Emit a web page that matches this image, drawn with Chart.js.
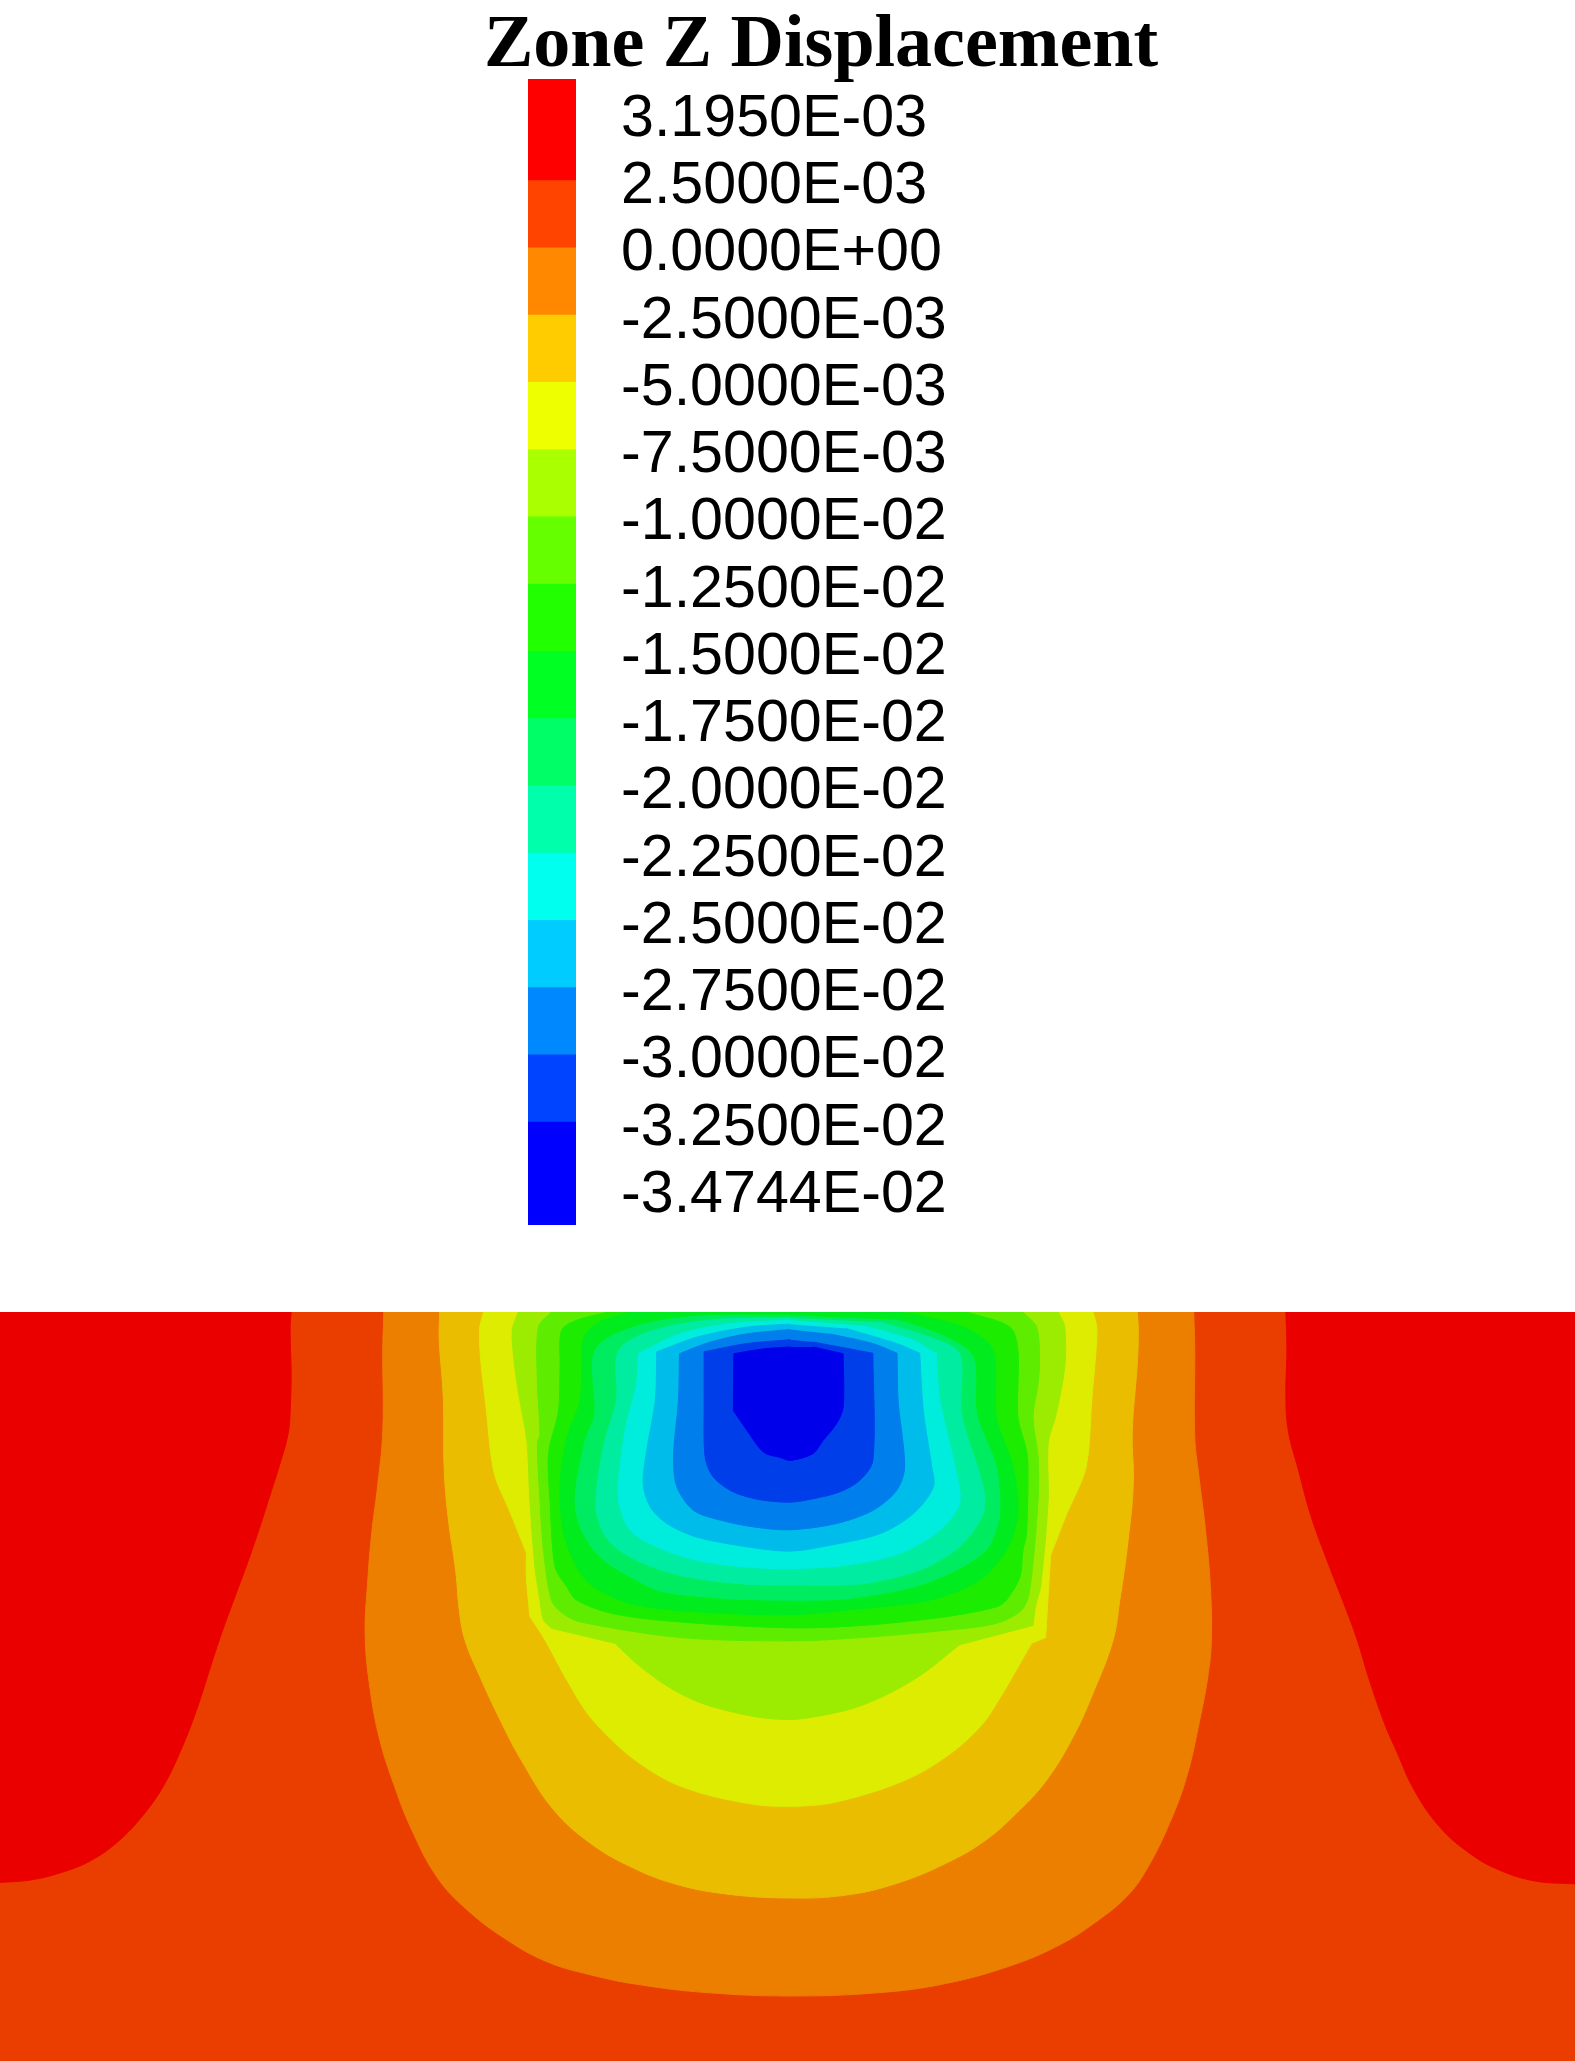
<!DOCTYPE html>
<html>
  <head>
    <style>
      body {
        margin: 0;
        background: #fff;
      }
      .title {
        position: absolute;
        left: 0;
        top: 4px;
        width: 1642px;
        text-align: center;
        font: bold 74px/74px "Liberation Serif", serif;
        color: #000;
      }
      #legendChart, #fieldChart {
        position: absolute;
        left: 0;
      }
      #legendChart { top: 0; }
      #fieldChart { top: 1312px; }
    </style>
    <script src="https://cdn.jsdelivr.net/npm/chart.js"></script>
  </head>
  <body>
    <div class="title">Zone Z Displacement</div>
    <canvas id="legendChart" width="1575" height="1312"></canvas>
    <canvas id="fieldChart" width="1575" height="749"></canvas>
    <script>
      // colour bar
      var tickLabels = ['3.1950E-03', '2.5000E-03', '0.0000E+00', '-2.5000E-03', '-5.0000E-03', '-7.5000E-03',
        '-1.0000E-02', '-1.2500E-02', '-1.5000E-02', '-1.7500E-02', '-2.0000E-02', '-2.2500E-02',
        '-2.5000E-02', '-2.7500E-02', '-3.0000E-02', '-3.2500E-02', '-3.4744E-02'];
      var bandEdges = [-0.5, 1, 2, 3, 4, 5, 6, 7, 8, 9, 10, 11, 12, 13, 14, 15, 16.54];
      var legendColors = ['#FF0000', '#FF4400', '#FF8800', '#FFCC00', '#EEFF00', '#AAFF00', '#66FF00', '#22FF00',
        '#00FF22', '#00FF66', '#00FFAA', '#00FFEE', '#00CCFF', '#0088FF', '#0044FF', '#0000FF'];

      // contour outlines, [x, y] in field units
      // a point written twice is a sharp corner of the contour
      var extent = [[0, 24], [3127, 24], [3127, 1568], [0, 1568]];
      var redLeft = [[0, 24], [578, 24], [578, 24], [576, 60], [578, 150], [576, 230], [572, 275], [555, 340], [535, 405], [515, 470], [490, 545], [465, 615], [437, 695], [415, 765], [390, 845], [360, 925], [325, 1000], [285, 1060], [235, 1115], [180, 1155], [120, 1180], [60, 1195], [0, 1200]];
      var redRight = [[2553, 24], [2553, 24], [2555, 100], [2553, 200], [2558, 270], [2578, 350], [2603, 445], [2638, 545], [2668, 625], [2693, 695], [2718, 780], [2748, 870], [2773, 930], [2808, 1010], [2858, 1085], [2918, 1140], [2978, 1175], [3048, 1197], [3127, 1203], [3127, 1203], [3127, 24]];
      var orange = [[762, 24], [760, 100], [760, 270], [750, 380], [738, 480], [730, 580], [725, 690], [735, 803], [754, 906], [781, 995], [816, 1088], [867, 1188], [927, 1256], [1006, 1318], [1085, 1363], [1171, 1390], [1271, 1411], [1403, 1427], [1569, 1434], [1746, 1427], [1879, 1408], [2011, 1370], [2105, 1328], [2175, 1282], [2237, 1229], [2276, 1174], [2322, 1078], [2356, 982], [2382, 865], [2399, 769], [2405, 700], [2403, 590], [2393, 470], [2380, 360], [2372, 280], [2372, 100], [2370, 24]];
      var amber = [[873, 24], [872, 80], [880, 200], [882, 350], [890, 450], [905, 560], [912, 640], [923, 700], [953, 776], [993, 865], [1035, 948], [1099, 1050], [1172, 1119], [1251, 1167], [1337, 1202], [1436, 1223], [1569, 1232], [1680, 1226], [1780, 1202], [1879, 1160], [1958, 1112], [2025, 1050], [2078, 989], [2131, 899], [2170, 810], [2210, 700], [2223, 620], [2238, 510], [2250, 380], [2248, 270], [2258, 130], [2260, 60], [2258, 24]];
      var yellow = [[960, 24], [952, 60], [955, 130], [965, 220], [975, 320], [985, 370], [1010, 430], [1045, 520], [1045, 520], [1045, 570], [1052, 652], [1052, 652], [1082, 700], [1125, 782], [1171, 858], [1244, 934], [1324, 989], [1403, 1019], [1503, 1040], [1569, 1043], [1647, 1037], [1747, 1009], [1826, 975], [1899, 925], [1952, 872], [1985, 820], [2018, 762], [2048, 707], [2048, 707], [2076, 695], [2076, 695], [2086, 525], [2086, 525], [2118, 440], [2156, 345], [2168, 200], [2178, 60], [2170, 24]];
      var lime = [[1029, 24], [1017, 62], [1022, 137], [1032, 206], [1046, 289], [1052, 412], [1062, 549], [1072, 618], [1079, 659], [1095, 676], [1095, 676], [1221, 707], [1221, 707], [1271, 755], [1337, 803], [1403, 834], [1503, 859], [1569, 864], [1614, 859], [1694, 841], [1766, 810], [1833, 769], [1905, 710], [1905, 710], [2051, 670], [2051, 670], [2056, 630], [2066, 590], [2081, 412], [2081, 295], [2097, 234], [2114, 137], [2114, 55], [2101, 24]];
      var grass = [[1095, 24], [1069, 55], [1067, 172], [1072, 275], [1067, 295], [1072, 412], [1079, 515], [1095, 618], [1118, 646], [1152, 663], [1350, 695], [1569, 702], [1713, 695], [1879, 680], [1978, 666], [2028, 639], [2044, 600], [2061, 412], [2061, 323], [2051, 240], [2061, 172], [2064, 117], [2058, 55], [2031, 24]];
      var green = [[1208, 24], [1145, 41], [1115, 62], [1112, 137], [1109, 227], [1089, 316], [1092, 412], [1102, 549], [1125, 590], [1145, 618], [1218, 646], [1350, 663], [1569, 675], [1713, 670], [1879, 652], [1978, 632], [1998, 618], [2025, 570], [2031, 515], [2038, 481], [2041, 343], [2038, 309], [2021, 240], [2021, 103], [2005, 55], [1919, 24]];
      var emerald = [[1251, 24], [1190, 45], [1160, 75], [1155, 137], [1152, 206], [1128, 275], [1115, 343], [1112, 412], [1119, 480], [1145, 550], [1178, 590], [1251, 625], [1383, 642], [1569, 648], [1713, 635], [1846, 618], [1945, 577], [1998, 515], [2021, 440], [2011, 343], [1978, 240], [1972, 103], [1919, 58], [1826, 31], [1780, 24]];
      var spring = [[1569, 31], [1383, 33], [1258, 55], [1181, 103], [1181, 234], [1162, 289], [1142, 405], [1152, 467], [1191, 529], [1264, 577], [1317, 601], [1450, 615], [1569, 618], [1680, 615], [1813, 591], [1899, 556], [1958, 515], [1975, 480], [1985, 440], [1978, 343], [1939, 234], [1932, 117], [1879, 76], [1780, 40]];
      var mint = [[1569, 36], [1416, 40], [1297, 62], [1228, 103], [1224, 206], [1201, 289], [1185, 385], [1185, 440], [1208, 495], [1264, 536], [1350, 567], [1469, 584], [1569, 587], [1713, 584], [1826, 556], [1905, 508], [1952, 440], [1952, 385], [1909, 234], [1905, 110], [1846, 76], [1747, 45]];
      var cyan = [[1569, 41], [1449, 48], [1350, 69], [1267, 110], [1267, 110], [1264, 172], [1244, 254], [1231, 343], [1228, 412], [1251, 474], [1304, 508], [1383, 536], [1483, 550], [1569, 553], [1680, 546], [1786, 522], [1866, 474], [1905, 419], [1899, 357], [1866, 206], [1859, 110], [1859, 110], [1813, 82], [1713, 52]];
      var sky = [[1569, 49], [1483, 55], [1383, 76], [1304, 106], [1304, 106], [1301, 206], [1284, 309], [1277, 378], [1291, 426], [1324, 460], [1383, 488], [1483, 508], [1569, 517], [1647, 505], [1747, 481], [1813, 440], [1853, 385], [1849, 337], [1833, 227], [1826, 109], [1826, 109], [1780, 89], [1680, 58]];
      var azure = [[1569, 60], [1483, 69], [1410, 86], [1349, 110], [1349, 110], [1347, 206], [1337, 323], [1344, 385], [1377, 433], [1430, 453], [1496, 467], [1569, 473], [1661, 460], [1733, 433], [1780, 392], [1796, 344], [1783, 206], [1781, 109], [1781, 109], [1733, 89], [1647, 69]];
      var royal = [[1569, 81], [1483, 89], [1398, 106], [1398, 106], [1398, 206], [1400, 323], [1416, 364], [1456, 395], [1509, 411], [1569, 416], [1614, 409], [1667, 395], [1707, 371], [1733, 330], [1733, 109], [1733, 109], [1614, 86]];
      var blue = [[1569, 96], [1516, 100], [1457, 110], [1457, 110], [1456, 227], [1456, 227], [1483, 268], [1516, 313], [1549, 324], [1569, 330], [1614, 316], [1634, 289], [1661, 254], [1674, 220], [1674, 110], [1674, 110], [1614, 96]];

      function contour(points, color, tension) {
        return {
          data: points.map(function(p) { return {x: p[0], y: p[1]}; }),
          showLine: true,
          fill: 'shape',
          backgroundColor: color,
          borderColor: color,
          borderWidth: 1,
          pointRadius: 0,
          tension: tension === undefined ? 0.3 : tension
        };
      }

      new Chart(document.getElementById('legendChart'), {
        type: 'bar',
        data: {
          labels: [''],
          datasets: legendColors.map(function(color, i) {
            return {
              data: [[bandEdges[i], bandEdges[i + 1]]],
              backgroundColor: color,
              grouped: false,
              barPercentage: 1,
              categoryPercentage: 1
            };
          })
        },
        options: {
          responsive: false,
          animation: false,
          layout: {padding: {left: 528, top: 79, bottom: 87}},
          plugins: {legend: {display: false}, tooltip: {enabled: false}},
          scales: {
            x: {display: false},
            y: {
              position: 'right',
              reverse: true,
              bounds: 'data',
              min: -0.5,
              max: 16.54,
              afterFit: function(scale) { scale.width = 999; scale.paddingTop = 0; scale.paddingBottom = 0; },
              afterBuildTicks: function(scale) {
                scale.ticks = tickLabels.map(function(label, i) { return {value: i}; });
              },
              grid: {display: false, drawTicks: false},
              border: {display: false},
              ticks: {
                autoSkip: false,
                padding: 45,
                labelOffset: 7,
                color: '#000',
                font: {family: '"Liberation Sans", Arial, sans-serif', size: 59.2},
                callback: function(value) { return tickLabels[value] || ''; }
              }
            }
          }
        }
      });

      new Chart(document.getElementById('fieldChart'), {
        type: 'scatter',
        data: {
          datasets: [
            contour(blue, '#0000EA'),
            contour(royal, '#003EEA'),
            contour(azure, '#007EEC'),
            contour(sky, '#00BCEA'),
            contour(cyan, '#00ECDD'),
            contour(mint, '#00ECA0'),
            contour(spring, '#00EC60'),
            contour(emerald, '#00EC1E'),
            contour(green, '#1CEC00'),
            contour(grass, '#5EEC00'),
            contour(lime, '#9BEC00'),
            contour(yellow, '#DDEC00'),
            contour(amber, '#EABD00', 0.4),
            contour(orange, '#EC7E00', 0.4),
            contour(redLeft, '#EB0000', 0.4),
            contour(redRight, '#EB0000', 0.4),
            contour(extent, '#EA3D00', 0)
          ]
        },
        options: {
          responsive: false,
          animation: false,
          plugins: {legend: {display: false}, tooltip: {enabled: false}},
          scales: {
            x: {display: false, min: 0, max: 3127},
            y: {display: false, reverse: true, min: 24, max: 1568}
          }
        }
      });
    </script>
  </body>
</html>
